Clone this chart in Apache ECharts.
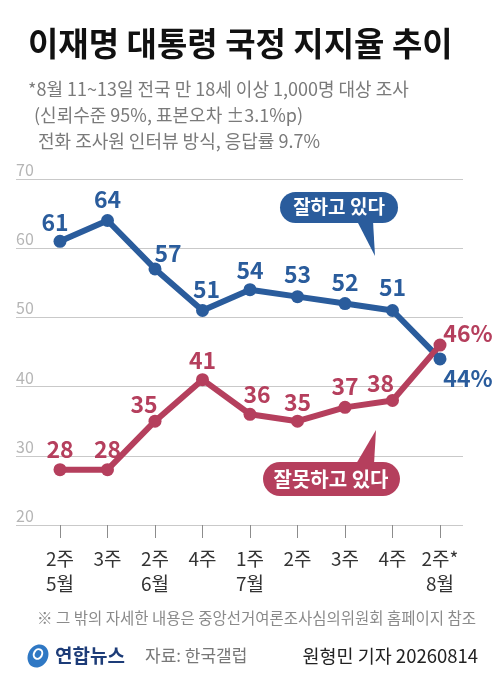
<!DOCTYPE html>
<html>
<head>
<meta charset="utf-8">
<script src="https://cdn.jsdelivr.net/npm/echarts@6/dist/echarts.min.js"></script>
<style>
html,body{margin:0;padding:0;background:#fff}
#main{width:499px;height:690px}
</style>
</head>
<body>
<div id="main"></div>
<script>
// 주차별 여론조사 결과
var weeks = ['2주\n5월', '3주', '2주\n6월', '4주', '1주\n7월', '2주', '3주', '4주', '2주*\n8월'];
var goodValues = [61, 64, 57, 51, 54, 53, 52, 51, 44];   // 잘하고 있다
var badValues = [28, 28, 35, 41, 36, 35, 37, 38, 46];    // 잘못하고 있다
var yTicks = [20, 30, 40, 50, 60, 70];

// 라벨 위치 보정 (스타일)
var goodOffsets = [[-5, -19], [0, -21], [13, -16], [4, -21], [0, -19], [0, -22], [0, -21], [0, -23], [28, 19]];
var badOffsets = [[0, -20], [0, -20], [-11, -17], [0, -19], [7, -20], [0, -19], [0, -21], [-12, -17], [28, -12]];

var FONT = '"Noto Sans CJK KR", "Noto Sans", sans-serif';
var BLUE = '#2a5c9c';
var RED = '#b53f5d';
var last = weeks.length - 1;

function labelText(p) {
    return p.dataIndex === last ? p.value + '%' : String(p.value);
}

function makeSeries(name, values, offsets, color) {
    return {
        name: name,
        type: 'line',
        xAxisIndex: 1,
        yAxisIndex: 1,
        data: values.map(function (v, i) {
            return { value: v, label: { offset: offsets[i] } };
        }),
        symbol: 'circle',
        symbolSize: 13,
        lineStyle: { width: 6, color: color, join: 'round', cap: 'round' },
        itemStyle: { color: color },
        label: {
            show: true,
            position: 'inside',
            formatter: labelText,
            fontSize: 23,
            fontWeight: 'bold',
            fontFamily: FONT,
            color: color
        },
        emphasis: { disabled: true },
        silent: true
    };
}

function text(str, x, y, size, color, weight, align) {
    return {
        type: 'text',
        z: 100,
        style: {
            text: str, x: x, y: y,
            fill: color,
            font: (weight || 'normal') + ' ' + size + 'px ' + FONT,
            align: align || 'left',
            verticalAlign: 'middle'
        }
    };
}

var myChart = echarts.init(document.getElementById('main'));
myChart.setOption({
    backgroundColor: '#fff',
    animation: false,
    grid: [
        { left: 16, right: 36, top: 179, bottom: 165 },
        { left: 60, right: 59, top: 179, bottom: 165 }
    ],
    xAxis: [
        { gridIndex: 0, type: 'value', show: false, min: 0, max: 1 },
        {
            gridIndex: 1, type: 'category', data: weeks, boundaryGap: false,
            axisLine: { show: false },
            axisTick: { show: true, length: 13, lineStyle: { color: '#8c8c8c', width: 1 } },
            axisLabel: {
                margin: 21, fontSize: 19, lineHeight: 25, color: '#333',
                fontFamily: FONT, interval: 0
            },
            splitLine: { show: false }
        }
    ],
    yAxis: [
        {
            gridIndex: 0, type: 'value',
            min: yTicks[0], max: yTicks[yTicks.length - 1], interval: yTicks[1] - yTicks[0],
            axisLine: { show: false }, axisTick: { show: false },
            axisLabel: {
                inside: true, margin: 0, align: 'left', verticalAlign: 'bottom',
                padding: [0, 0, 1, 0], color: '#b5b5b5', fontSize: 16, fontFamily: FONT
            },
            splitLine: { lineStyle: { color: '#c9c9c9', width: 1 } }
        },
        {
            gridIndex: 1, type: 'value', show: false,
            min: yTicks[0], max: yTicks[yTicks.length - 1]
        }
    ],
    series: [
        makeSeries('잘하고 있다', goodValues, goodOffsets, BLUE),
        makeSeries('잘못하고 있다', badValues, badOffsets, RED)
    ],
    graphic: [
        text('이재명 대통령 국정 지지율 추이', 28, 43, 33, '#111', 'bold'),
        text('*8월 11~13일 전국 만 18세 이상 1,000명 대상 조사', 28, 89, 18, '#7a7a7a'),
        text('(신뢰수준 95%, 표본오차 ±3.1%p)', 34, 115, 18, '#7a7a7a'),
        text('전화 조사원 인터뷰 방식, 응답률 9.7%', 38, 141, 18, '#7a7a7a'),

        // 잘하고 있다 말풍선
        { type: 'rect', z: 90, shape: { x: 280, y: 192, width: 118, height: 31, r: 15.5 }, style: { fill: BLUE } },
        { type: 'polygon', z: 90, shape: { points: [[357, 221], [373, 221], [375, 256]] }, style: { fill: BLUE } },
        text('잘하고 있다', 339, 207, 19, '#fff', 'bold', 'center'),

        // 잘못하고 있다 말풍선
        { type: 'rect', z: 90, shape: { x: 263, y: 462, width: 137, height: 34, r: 17 }, style: { fill: RED } },
        { type: 'polygon', z: 90, shape: { points: [[356, 464], [374, 464], [376, 430]] }, style: { fill: RED } },
        text('잘못하고 있다', 331, 479, 20, '#fff', 'bold', 'center'),

        text('※ 그 밖의 자세한 내용은 중앙선거여론조사심의위원회 홈페이지 참조', 37, 618, 15.5, '#8a8a8a'),

        // 로고
        { type: 'ellipse', z: 100, shape: { cx: 38, cy: 656, rx: 10, ry: 12 }, rotation: -0.5, originX: 38, originY: 656,
          style: { fill: '#2f78c4' } },
        { type: 'ellipse', z: 101, shape: { cx: 38, cy: 654, rx: 4, ry: 5 }, rotation: -0.5, originX: 38, originY: 654,
          style: { fill: 'none', stroke: '#fff', lineWidth: 2 } },
        text('연합뉴스', 55, 656, 19, '#1d3c78', 'bold'),
        text('자료: 한국갤럽', 145, 656, 17, '#777'),
        text('원형민 기자 20260814', 478, 656, 18.5, '#222', 'normal', 'right')
    ]
});
</script>
</body>
</html>
